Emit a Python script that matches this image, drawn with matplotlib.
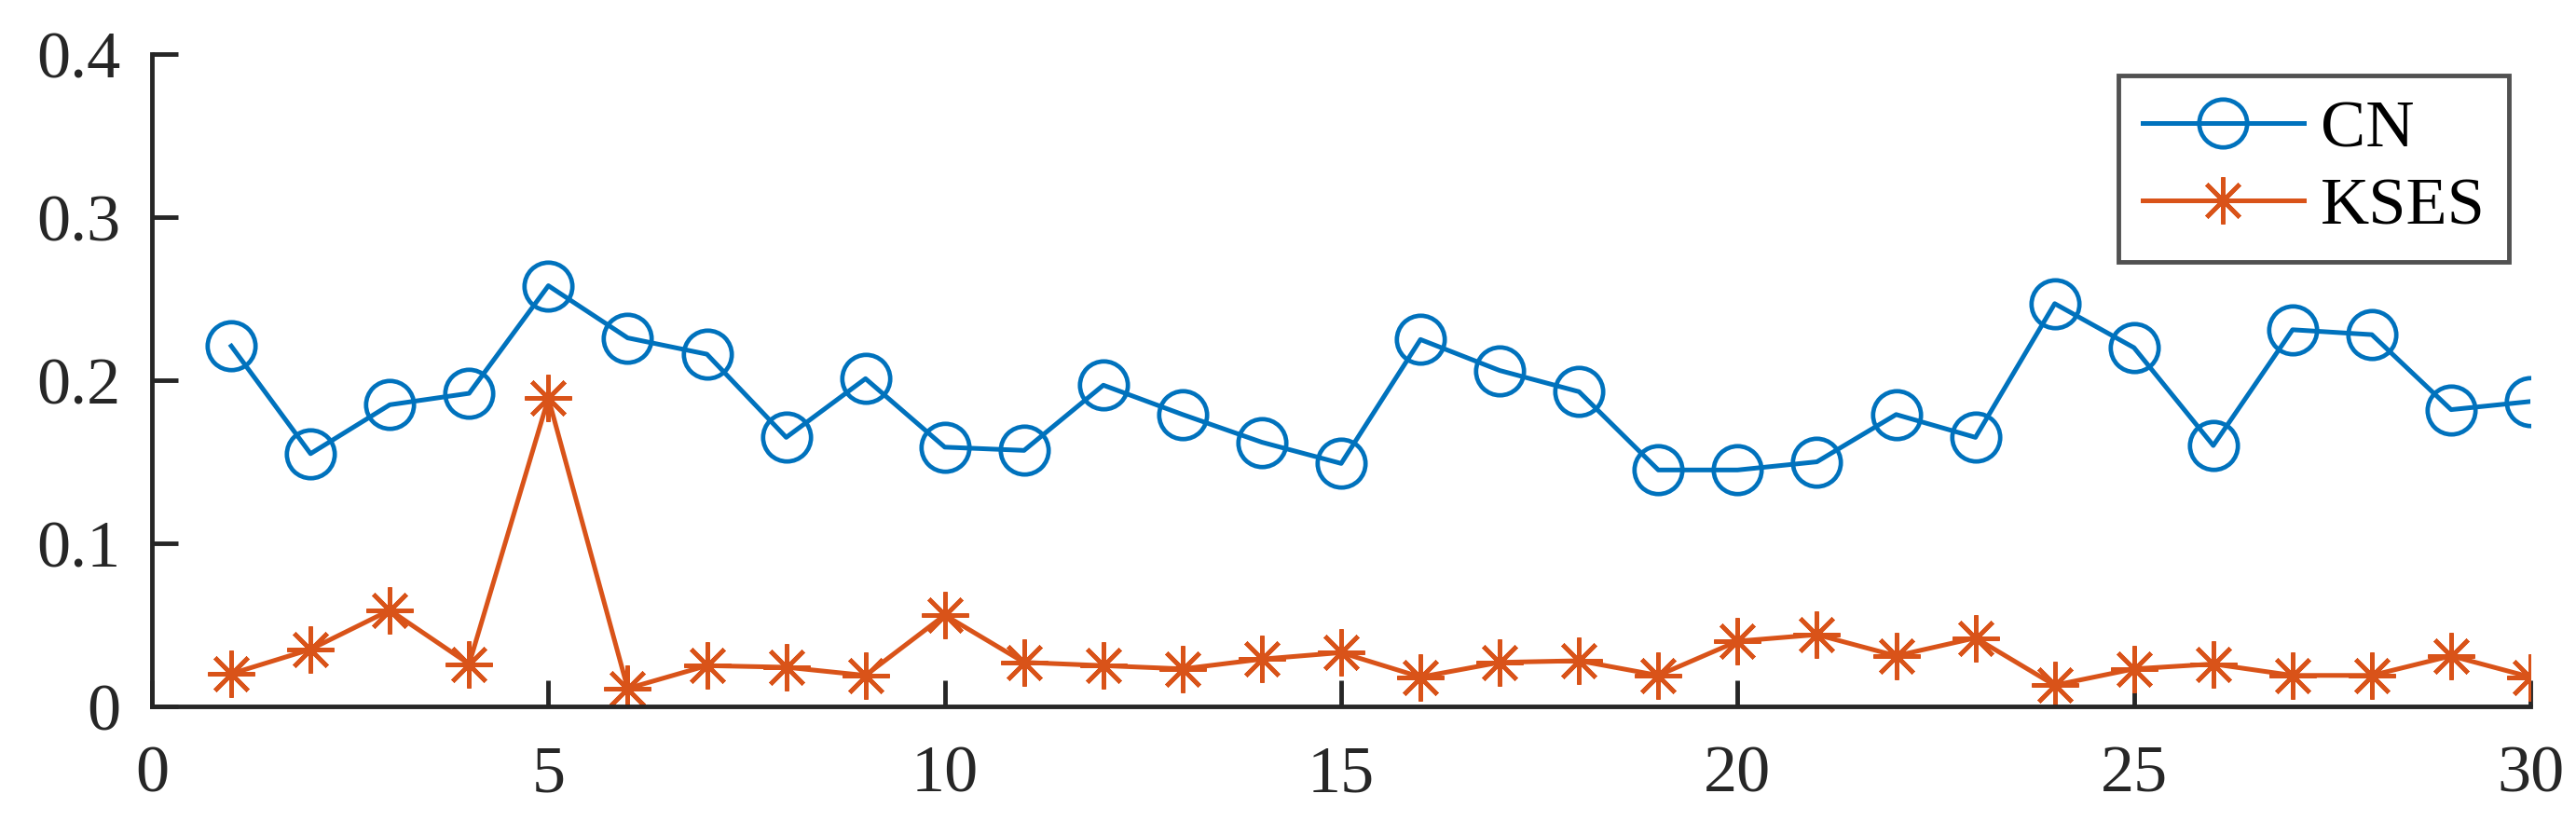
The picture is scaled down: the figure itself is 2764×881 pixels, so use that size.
import matplotlib
matplotlib.use("Agg")
import matplotlib.pyplot as plt

x = list(range(1, 31))
cn = [0.221, 0.155, 0.185, 0.192, 0.258, 0.226, 0.216, 0.165, 0.201, 0.159,
      0.157, 0.197, 0.179, 0.162, 0.149, 0.225, 0.206, 0.193, 0.145, 0.145,
      0.150, 0.179, 0.165, 0.247, 0.220, 0.160, 0.231, 0.228, 0.182, 0.187]
kses = [0.020, 0.035, 0.059, 0.026, 0.189, 0.011, 0.025, 0.024, 0.019, 0.056,
        0.027, 0.025, 0.023, 0.029, 0.033, 0.018, 0.027, 0.028, 0.019, 0.040,
        0.044, 0.031, 0.042, 0.013, 0.023, 0.026, 0.019, 0.019, 0.031, 0.018]
labels = ["CN", "KSES"]
xticks = [0, 5, 10, 15, 20, 25, 30]
yticks = [0, 0.1, 0.2, 0.3, 0.4]
ytick_labels = ["0", "0.1", "0.2", "0.3", "0.4"]

plt.rcParams['font.family'] = ['Liberation Serif', 'DejaVu Serif']

fig = plt.figure(figsize=(27.64, 8.81), dpi=100)
ax = fig.add_axes([0.059, 0.1396, 0.9233, 0.7944])

ax.plot(x, cn, color='#0072BD', lw=3.6, marker='o', ms=37, mfc='none',
        mew=3.4, label=labels[0])
ax.plot(x, kses, color='#D95319', lw=3.6, marker=(8, 2, 0), ms=36,
        mew=3.4, label=labels[1])

ax.set_xlim(0, 30)
ax.set_ylim(0, 0.4)
ax.set_xticks(xticks)
ax.set_yticks(yticks)
ax.set_yticklabels(ytick_labels)
for s in ['top', 'right']:
    ax.spines[s].set_visible(False)
for s in ['left', 'bottom']:
    ax.spines[s].set_linewidth(3.5)
    ax.spines[s].set_color('#262626')
ax.tick_params(direction='in', length=20, width=3.5, colors='#262626',
               labelsize=52, labelcolor='#262626')
ax.tick_params(axis='x', pad=30)
ax.tick_params(axis='y', pad=24)

leg = ax.legend(loc='upper right', bbox_to_anchor=(0.991, 0.967), fontsize=52,
                frameon=True, fancybox=False, edgecolor='#262626',
                handlelength=2.4, handletextpad=0.25, labelspacing=0.25,
                borderpad=0.35, borderaxespad=0.0)
leg.get_frame().set_linewidth(3.5)

fig.savefig("out.png", dpi=100, facecolor='white')
